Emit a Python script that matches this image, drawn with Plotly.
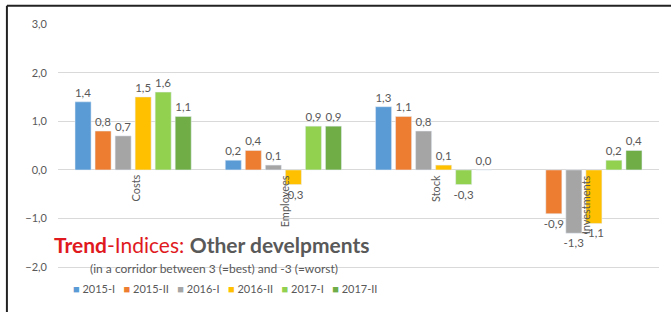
import plotly.graph_objects as go

categories = ["Costs", "Employees", "Stock", "Investments"]
series_names = ["2015-I", "2015-II", "2016-I", "2016-II", "2017-I", "2017-II"]
values = {
    "2015-I":  [1.4, 0.2, 1.3, None],
    "2015-II": [0.8, 0.4, 1.1, -0.9],
    "2016-I":  [0.7, 0.1, 0.8, -1.3],
    "2016-II": [1.5, -0.3, 0.1, -1.1],
    "2017-I":  [1.6, 0.9, -0.3, 0.2],
    "2017-II": [1.1, 0.9, 0.0, 0.4],
}
colors = ["#5B9BD5", "#ED7D31", "#A5A5A5", "#FFC000", "#92D050", "#70AD47"]
y_ticks = [-3, -2, -1, 0, 1, 2, 3]

FONT = "Lato"
GREY = "#595959"

fig = go.Figure()
for name, col in zip(series_names, colors):
    vals = values[name]
    fig.add_trace(go.Bar(
        name=name, x=categories, y=vals, marker_color=col, showlegend=False,
        text=[("" if v is None else f"{v:.1f}".replace(".", ",")) for v in vals],
        textposition="outside", cliponaxis=False, constraintext="none",
        textfont=dict(size=11.5, color=GREY, family=FONT),
    ))

annotations = []
for c in categories:
    annotations.append(dict(
        x=c, y=0, xref="x", yref="y", text=c, textangle=-90,
        showarrow=False, xanchor="center", yanchor="top", yshift=-3, xshift=2,
        font=dict(size=11, color=GREY, family=FONT),
    ))
annotations.append(dict(
    x=-0.01, y=0.235, xref="paper", yref="paper", xanchor="left", yanchor="middle",
    showarrow=False,
    text="<span style='color:#E0191E'><b>Trend</b>-Indices:</span> <b>Other develpments</b>",
    font=dict(size=21, color=GREY, family=FONT),
))
annotations.append(dict(
    x=0.05, y=0.152, xref="paper", yref="paper", xanchor="left", yanchor="middle",
    showarrow=False,
    text="(in a corridor between 3 (=best) and -3 (=worst)",
    font=dict(size=12, color=GREY, family=FONT),
))
# legend row
legend_text = "\u00a0\u00a0\u00a0".join(
    f"<span style='color:{col}'>\u25a0</span>\u00a0{name}" for name, col in zip(series_names, colors)
)
annotations.append(dict(
    x=0.022, y=0.08, xref="paper", yref="paper", xanchor="left", yanchor="middle",
    showarrow=False, text=legend_text,
    font=dict(size=11, color=GREY, family=FONT),
))

shapes = [
    dict(type="line", xref="paper", yref="paper", x0=-0.085, x1=1.03, y0=1.063, y1=1.063,
         line=dict(color="#222222", width=2)),
    dict(type="line", xref="paper", yref="paper", x0=-0.085, x1=-0.085, y0=-0.1, y1=1.063,
         line=dict(color="#222222", width=2)),
]

fig.update_layout(
    width=671, height=312,
    margin=dict(l=58, r=12, t=24, b=0),
    paper_bgcolor="white", plot_bgcolor="white",
    barmode="group", bargap=0.2, bargroupgap=0.2,
    separators=",.",
    font=dict(family=FONT, color=GREY, size=11),
    xaxis=dict(showticklabels=False, showgrid=False, zeroline=False, showline=False),
    yaxis=dict(range=[-2.92, 3.0], tickvals=y_ticks, tickformat=".1f",
               showgrid=True, gridcolor="#D9D9D9", gridwidth=1,
               zeroline=True, zerolinecolor="#D9D9D9", zerolinewidth=1,
               tickfont=dict(size=11, color=GREY, family=FONT), ticks="", showline=False,
               ticklabelstandoff=10),
    showlegend=False,
    annotations=annotations, shapes=shapes,
)

fig.write_html("out.html", config={"displayModeBar": False},
               post_script="document.body.style.margin='0';document.body.style.padding='0';")
